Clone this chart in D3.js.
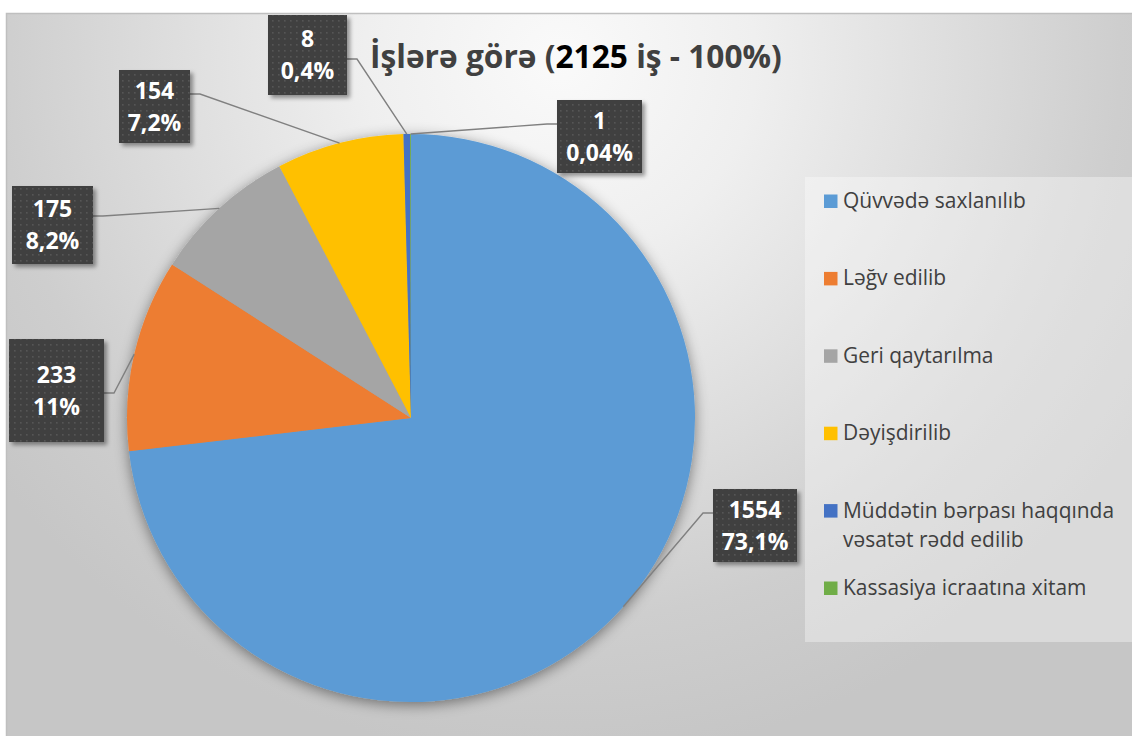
<!DOCTYPE html>
<html>
<head>
<meta charset="utf-8">
<script src="https://cdn.jsdelivr.net/npm/d3@7"></script>
<style>
  html, body { margin: 0; padding: 0; background: #ffffff; }
  svg { display: block; }
</style>
</head>
<body>
<script>
// ---- data ----
const categories = [
  "Qüvvədə saxlanılıb",
  "Ləğv edilib",
  "Geri qaytarılma",
  "Dəyişdirilib",
  "Müddətin bərpası haqqında vəsatət rədd edilib",
  "Kassasiya icraatına xitam"
];
const values = [1554, 233, 175, 154, 8, 1];
const percentLabels = ["73,1%", "11%", "8,2%", "7,2%", "0,4%", "0,04%"];
const titleParts = ["İşlərə görə (", "2125", " iş - 100%)"];

// ---- styles / layout ----
const colors = ["#5B9BD5", "#ED7D31", "#A5A5A5", "#FFC000", "#4472C4", "#70AD47"];
const labelLayout = [
  { x: 713, y: 489, w: 84, h: 73, ay: 513, side: "left" },
  { x: 9,   y: 339, w: 95, h: 103, ay: 393, side: "right" },
  { x: 12,  y: 186, w: 81, h: 78, ay: 216, side: "right" },
  { x: 119, y: 70,  w: 71, h: 73, ay: 94,  side: "right" },
  { x: 268, y: 15,  w: 79, h: 80, ay: 59,  side: "right" },
  { x: 557, y: 100, w: 85, h: 73, ay: 124, side: "left" }
];

const W = 1132, H = 736;
const cx = 411, cy = 418, R = 284;
const FONT = "'Open Sans', 'Noto Sans', sans-serif";

const svg = d3.select("body").append("svg").attr("width", W).attr("height", H);
const defs = svg.append("defs");

const bg = defs.append("radialGradient").attr("id", "bg")
  .attr("gradientUnits", "userSpaceOnUse")
  .attr("cx", 560).attr("cy", 60).attr("r", 700);
[[0, "#fafafa"], [0.28, "#efefef"], [0.55, "#dedede"], [0.8, "#cecece"], [1, "#c6c6c6"]]
  .forEach(([o, c]) => bg.append("stop").attr("offset", o).attr("stop-color", c));

const pieShadow = defs.append("filter").attr("id", "pieShadow")
  .attr("x", "-20%").attr("y", "-20%").attr("width", "140%").attr("height", "140%");
pieShadow.append("feDropShadow").attr("dx", 0).attr("dy", 3).attr("stdDeviation", 7)
  .attr("flood-color", "#000").attr("flood-opacity", 0.45);

const boxShadow = defs.append("filter").attr("id", "boxShadow")
  .attr("x", "-20%").attr("y", "-20%").attr("width", "150%").attr("height", "150%");
boxShadow.append("feDropShadow").attr("dx", 3).attr("dy", 3).attr("stdDeviation", 2)
  .attr("flood-color", "#000").attr("flood-opacity", 0.4);

const pat = defs.append("pattern").attr("id", "dots")
  .attr("patternUnits", "userSpaceOnUse").attr("width", 6).attr("height", 6);
pat.append("rect").attr("width", 6).attr("height", 6).attr("fill", "#404040");
pat.append("rect").attr("x", 2).attr("y", 2).attr("width", 1.6).attr("height", 1.6).attr("fill", "#575757");

// chart area
svg.append("rect").attr("x", 6.5).attr("y", 13.5).attr("width", W + 20).attr("height", H + 20)
  .attr("fill", "url(#bg)").attr("stroke", "#bfbfbf").attr("stroke-width", 1.5);

// title
const title = svg.append("text").attr("x", 370).attr("y", 68)
  .attr("font-family", FONT).attr("font-weight", 700).attr("font-size", 30)
  .attr("fill", "#404040");
title.append("tspan").text(titleParts[0]);
title.append("tspan").attr("fill", "#000").text(titleParts[1]);
title.append("tspan").text(titleParts[2]);
{
  const w = title.node().getComputedTextLength();
  title.attr("font-size", 30 * 412 / w);
}

// pie
const pie = d3.pie().sort(null).value(d => d);
const arcs = pie(values);
const arc = d3.arc().innerRadius(0).outerRadius(R);

const gp = svg.append("g").attr("transform", `translate(${cx},${cy})`).attr("filter", "url(#pieShadow)");
gp.selectAll("path").data(arcs).join("path")
  .attr("d", arc)
  .attr("fill", (d, i) => colors[i]);

// leader lines
const gl = svg.append("g");
arcs.forEach((d, i) => {
  const L = labelLayout[i];
  const a = (d.startAngle + d.endAngle) / 2;
  const px = cx + R * Math.sin(a), py = cy - R * Math.cos(a);
  const ex = L.side === "left" ? L.x : L.x + L.w;
  const kx = L.side === "left" ? ex - 10 : ex + 10;
  gl.append("path")
    .attr("d", d3.line()([[px, py], [kx, L.ay], [ex, L.ay]]))
    .attr("fill", "none").attr("stroke", "#808080").attr("stroke-width", 1.4);
});

// label boxes
const gb = svg.append("g");
arcs.forEach((d, i) => {
  const L = labelLayout[i];
  const g = gb.append("g");
  g.append("rect").attr("x", L.x).attr("y", L.y).attr("width", L.w).attr("height", L.h)
    .attr("fill", "url(#dots)").attr("filter", "url(#boxShadow)");
  const mx = L.x + L.w / 2, my = L.y + L.h / 2;
  const fs = 23;
  [String(values[i]), percentLabels[i]].forEach((t, k) => {
    const lc = my + (k === 0 ? -16 : 16);
    g.append("text").attr("x", mx).attr("y", lc + 0.36 * fs)
      .attr("text-anchor", "middle")
      .attr("font-family", FONT).attr("font-weight", 700).attr("font-size", fs)
      .attr("fill", "#ffffff").text(t);
  });
});

// legend
const lg = svg.append("g");
lg.append("rect").attr("x", 805).attr("y", 177).attr("width", 340).attr("height", 465)
  .attr("fill", "#ffffff").attr("fill-opacity", 0.35);

function wrap(text, maxW, fs) {
  const tmp = svg.append("text").attr("font-family", FONT).attr("font-size", fs);
  const words = text.split(" ");
  const lines = [];
  let cur = "";
  words.forEach(w => {
    const test = cur ? cur + " " + w : w;
    tmp.text(test);
    if (tmp.node().getComputedTextLength() > maxW && cur) { lines.push(cur); cur = w; }
    else cur = test;
  });
  if (cur) lines.push(cur);
  tmp.remove();
  return lines;
}
let lfs;
{
  const tmp = svg.append("text").attr("font-family", FONT).attr("font-size", 20).text(categories[0]);
  lfs = 20 * 183 / tmp.node().getComputedTextLength();
  tmp.remove();
}
categories.forEach((c, i) => {
  const base = 208 + i * 77.4;
  lg.append("rect").attr("x", 824).attr("y", base - 13.5).attr("width", 13.5).attr("height", 13.5)
    .attr("fill", colors[i]);
  const lines = wrap(c, 285, lfs);
  lines.forEach((ln, k) => {
    lg.append("text").attr("x", 843).attr("y", base + k * 29)
      .attr("font-family", FONT).attr("font-size", lfs).attr("fill", "#404040").text(ln);
  });
});
</script>
</body>
</html>
